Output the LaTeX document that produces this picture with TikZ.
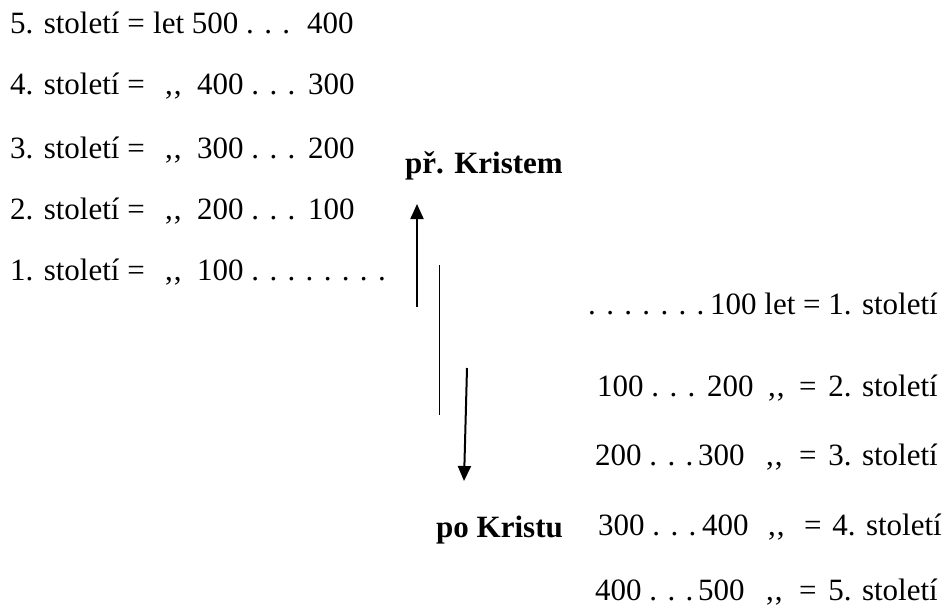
\documentclass[tikz,border=0pt]{standalone}
\usepackage{fontspec}
\setmainfont{Liberation Serif}
\usetikzlibrary{arrows.meta}
\tikzset{
  t/.style={anchor=base west,inner sep=0pt,font=\fontsize{31}{37}\selectfont},
  te/.style={anchor=base east,inner sep=0pt,font=\fontsize{31}{37}\selectfont},
  tb/.style={anchor=base west,inner sep=0pt,font=\fontsize{31}{37}\selectfont\bfseries},
  arr/.style={line width=2pt,-{Triangle[length=15pt,width=13pt]}},
  thin/.style={line width=1pt}
}
\begin{document}
\begin{tikzpicture}[x=1pt,y=-1pt]
\useasboundingbox (0,0) rectangle (945,607);
% left column
\node[t] (l5a) at (10,34) {5. století =};
\node[t] (l5b) at (153,34) {let 500 . . .};
\node[t] (l5c) at (307,34) {400};
\node[t] (l4a) at (10,95) {4. století =};
\node[t] (l4q) at (165,95) {,\kern1pt,};
\node[t] (l4b) at (197,95) {400 . . .};
\node[t] (l4c) at (308,95) {300};
\node[t] (l3a) at (10,158) {3. století =};
\node[t] (l3q) at (165,158) {,\kern1pt,};
\node[t] (l3b) at (197,158) {300 . . .};
\node[t] (l3c) at (308,158) {200};
\node[t] (l2a) at (10,219) {2. století =};
\node[t] (l2q) at (165,219) {,\kern1pt,};
\node[t] (l2b) at (197,219) {200 . . .};
\node[t] (l2c) at (308,219) {100};
\node[t] (l1a) at (10,280) {1. století =};
\node[t] (l1q) at (165,280) {,\kern1pt,};
\node[t] (l1b) at (197,280) {100 . . . . . . . .};
% labels
\node[tb] (pred) at (405,173) {př. Kristem};
\node[tb] (po) at (436,537) {po Kristu};
% right column
\node[t] (r1a) at (588,314) {. . . . . . .};
\node[te] (r1b) at (938,314) {100 let = 1. století};
\node[t] (r2a) at (597,396) {100 . . .};
\node[t] (r2b) at (707,396) {200};
\node[t] (r2q) at (768,396) {,\kern1pt,};
\node[t] (r2e) at (799,396) {=};
\node[te] (r2c) at (938,396) {2. století};
\node[t] (r3a) at (595,465) {200 . . .};
\node[t] (r3b) at (698,465) {300};
\node[t] (r3q) at (766,465) {,\kern1pt,};
\node[t] (r3e) at (799,465) {=};
\node[te] (r3c) at (938,465) {3. století};
\node[t] (r4a) at (598,535) {300 . . .};
\node[t] (r4b) at (702,535) {400};
\node[t] (r4q) at (768,535) {,\kern1pt,};
\node[t] (r4e) at (804,535) {=};
\node[te] (r4c) at (942,535) {4. století};
\node[t] (r5a) at (595,600) {400 . . .};
\node[t] (r5b) at (698,600) {500};
\node[t] (r5q) at (766,600) {,\kern1pt,};
\node[t] (r5e) at (799,600) {=};
\node[te] (r5c) at (938,600) {5. století};
% arrows
\coordinate (u0) at (417,307);
\coordinate (u1) at (417,204);
\coordinate (m0) at (439,265);
\coordinate (m1) at (439,415);
\coordinate (d0) at (467,368);
\coordinate (d1) at (464,481);
\draw[arr] (u0) -- (u1);
\draw[thin] (m0) -- (m1);
\draw[arr] (d0) -- (d1);
\end{tikzpicture}
\end{document}
